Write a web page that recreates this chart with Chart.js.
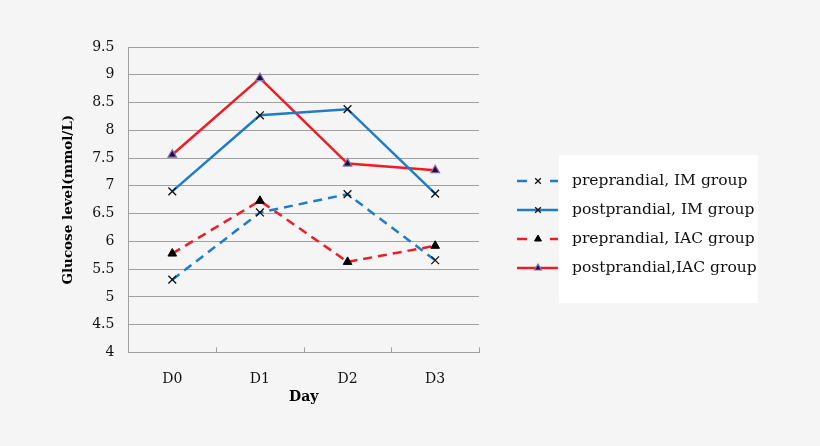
<!DOCTYPE html>
<html>
<head>
<meta charset="utf-8">
<script src="https://cdn.jsdelivr.net/npm/chart.js@4.4.1/dist/chart.umd.min.js"></script>
<style>
  html, body { margin: 0; padding: 0; background: #f5f5f5; }
  #wrap { width: 820px; height: 446px; }
</style>
</head>
<body>
<div id="wrap"><canvas id="glucoseChart" width="820" height="446"></canvas></div>
<script>
const days = ['D0', 'D1', 'D2', 'D3'];
const preIM = [5.31, 6.52, 6.85, 5.66];
const postIM = [6.90, 8.27, 8.38, 6.86];
const preIAC = [5.78, 6.73, 5.63, 5.92];
const postIAC = [7.56, 8.94, 7.40, 7.28];
const seriesNames = ['preprandial, IM group', 'postprandial, IM group', 'preprandial, IAC group', 'postprandial,IAC group'];

const blue = '#1f7cc6';
const red = '#ee1c24';
const gridGray = '#a0a0a0';
const serif = "'DejaVu Serif', serif";

// small upward tick marks on the x axis, at category boundaries
const xTickMarks = {
    id: 'xTickMarks',
    afterDraw(chart) {
        const x = chart.scales.x;
        const ctx = chart.ctx;
        const n = days.length;
        const step = (x.right - x.left) / n;
        ctx.save();
        ctx.strokeStyle = gridGray;
        ctx.lineWidth = 1;
        for (let i = 0; i <= n; i++) {
            const px = Math.round(x.left + i * step) + 0.5;
            ctx.beginPath();
            ctx.moveTo(px, x.top);
            ctx.lineTo(px, x.top - 5);
            ctx.stroke();
        }
        ctx.restore();
    }
};

// legend drawn by hand: line samples sit outside the white box
const sideLegend = {
    id: 'sideLegend',
    afterDraw(chart) {
        const ctx = chart.ctx;
        ctx.save();
        ctx.fillStyle = '#ffffff';
        ctx.fillRect(559, 155, 199, 148);
        chart.data.datasets.forEach((ds, i) => {
            const y = 181 + i * 29;
            ctx.strokeStyle = ds.borderColor;
            ctx.lineWidth = 2.5;
            ctx.setLineDash([]);
            ctx.beginPath();
            if (ds.borderDash && ds.borderDash.length) {
                ctx.moveTo(517, y); ctx.lineTo(527, y);
                ctx.moveTo(550, y); ctx.lineTo(558, y);
            } else {
                ctx.moveTo(517, y); ctx.lineTo(558, y);
            }
            ctx.stroke();
            ctx.fillStyle = ds.pointBackgroundColor;
            ctx.strokeStyle = ds.pointBorderColor;
            ctx.lineWidth = ds.pointBorderWidth;
            Chart.helpers.drawPoint(ctx, {
                pointStyle: ds.pointStyle,
                radius: 4,
                borderWidth: ds.pointBorderWidth,
                rotation: 0
            }, 538, y);
            ctx.fillStyle = '#111111';
            ctx.font = '15.5px ' + serif;
            ctx.textBaseline = 'middle';
            ctx.textAlign = 'left';
            ctx.fillText(seriesNames[i], 572, y);
        });
        ctx.restore();
    }
};

const ctx = document.getElementById('glucoseChart').getContext('2d');
const glucoseChart = new Chart(ctx, {
    type: 'line',
    data: {
        labels: days,
        datasets: [
            {
                label: seriesNames[0],
                data: preIM,
                borderColor: blue,
                borderWidth: 2.5,
                borderDash: [9, 6],
                pointStyle: 'crossRot',
                pointRadius: 5.5,
                pointBorderColor: '#111111',
                pointBackgroundColor: '#111111',
                pointBorderWidth: 1.3,
                tension: 0
            },
            {
                label: seriesNames[1],
                data: postIM,
                borderColor: blue,
                borderWidth: 2.5,
                pointStyle: 'crossRot',
                pointRadius: 5.5,
                pointBorderColor: '#111111',
                pointBackgroundColor: '#111111',
                pointBorderWidth: 1.3,
                tension: 0
            },
            {
                label: seriesNames[2],
                data: preIAC,
                borderColor: red,
                borderWidth: 2.5,
                borderDash: [9, 6],
                pointStyle: 'triangle',
                pointRadius: 5,
                pointBorderColor: '#000000',
                pointBackgroundColor: '#000000',
                pointBorderWidth: 1,
                tension: 0
            },
            {
                label: seriesNames[3],
                data: postIAC,
                borderColor: red,
                borderWidth: 2.5,
                pointStyle: 'triangle',
                pointRadius: 5,
                pointBorderColor: '#8a6bb5',
                pointBackgroundColor: '#1a1030',
                pointBorderWidth: 1.2,
                tension: 0
            }
        ]
    },
    options: {
        responsive: false,
        animation: false,
        layout: {
            padding: { left: 56, right: 341, top: 47, bottom: 36 }
        },
        plugins: {
            legend: { display: false },
            tooltip: { enabled: false }
        },
        scales: {
            x: {
                offset: true,
                grid: { display: false, drawTicks: false },
                border: { display: true, color: gridGray, width: 1 },
                ticks: {
                    color: '#111111',
                    padding: 19,
                    font: { family: serif, size: 14 }
                },
                title: {
                    display: true,
                    text: 'Day',
                    color: '#000000',
                    padding: { top: -18, bottom: 4 },
                    font: { family: serif, size: 14, weight: 'bold' }
                }
            },
            y: {
                min: 4,
                max: 9.5,
                grid: {
                    color: gridGray,
                    lineWidth: 1,
                    drawTicks: false
                },
                border: { display: true, color: gridGray, width: 1 },
                ticks: {
                    stepSize: 0.5,
                    color: '#111111',
                    padding: 14,
                    font: { family: serif, size: 14 },
                    callback: (value) => String(value)
                },
                title: {
                    display: true,
                    text: 'Glucose level(mmol/L)',
                    color: '#000000',
                    padding: { top: 4, bottom: 2 },
                    font: { family: serif, size: 13.5, weight: 'bold' }
                }
            }
        }
    },
    plugins: [xTickMarks, sideLegend]
});
</script>
</body>
</html>
